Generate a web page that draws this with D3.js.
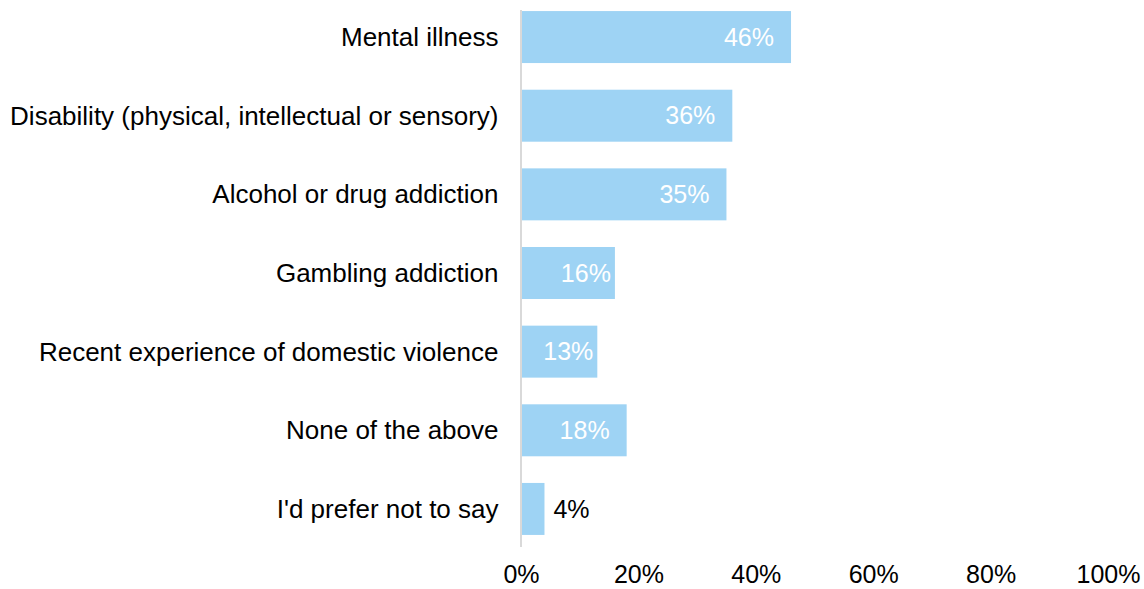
<!DOCTYPE html>
<html>
<head>
<meta charset="utf-8">
<script src="https://cdn.jsdelivr.net/npm/d3@7"></script>
<style>
  html, body { margin: 0; padding: 0; background: #ffffff; }
  svg { display: block; }
  text { font-family: "Liberation Sans", Arial, sans-serif; }
</style>
</head>
<body>
<svg id="chart" width="1144" height="589"></svg>
<script>
// Survey responses: share of respondents selecting each option
const categories = [
  "Mental illness",
  "Disability (physical, intellectual or sensory)",
  "Alcohol or drug addiction",
  "Gambling addiction",
  "Recent experience of domestic violence",
  "None of the above",
  "I'd prefer not to say"
];
const values = [46, 36, 35, 16, 13, 18, 4];
const tickValues = [0, 20, 40, 60, 80, 100];

const barColor = "#9ed3f4";
const labelSize = 26;
const valueSize = 25;

const svg = d3.select("#chart");

const x = d3.scaleLinear().domain([0, 100]).range([521, 1108]);
const y = d3.scaleBand()
  .domain(categories)
  .range([-2.3, 548.3])
  .paddingInner(0.339)
  .paddingOuter(0.17);

const rows = categories.map((c, i) => ({ cat: c, val: values[i] }));

// Bars
svg.append("g")
  .selectAll("rect")
  .data(rows)
  .join("rect")
  .attr("x", x(0) + 1)
  .attr("y", d => y(d.cat))
  .attr("width", d => x(d.val) - x(0) - 1)
  .attr("height", y.bandwidth())
  .attr("fill", barColor);

// Vertical category axis line
svg.append("line")
  .attr("x1", x(0)).attr("x2", x(0))
  .attr("y1", 10).attr("y2", 547)
  .attr("stroke", "#d9d9d9")
  .attr("stroke-width", 2);

// Category labels
svg.append("g")
  .selectAll("text")
  .data(rows)
  .join("text")
  .attr("x", 498.5)
  .attr("y", d => y(d.cat) + y.bandwidth() / 2)
  .attr("dy", "0.35em")
  .attr("text-anchor", "end")
  .attr("font-size", labelSize)
  .attr("fill", "#000000")
  .text(d => d.cat);

// Value labels: inside the bar end when it fits, otherwise just outside
svg.append("g")
  .selectAll("text")
  .data(rows)
  .join("text")
  .attr("x", d => {
    const w = x(d.val) - x(0);
    if (w < 40) return x(d.val) + 9;
    return x(d.val) - (w < 100 ? 4 : 17);
  })
  .attr("y", d => y(d.cat) + y.bandwidth() / 2)
  .attr("dy", "0.35em")
  .attr("text-anchor", d => (x(d.val) - x(0) < 40 ? "start" : "end"))
  .attr("font-size", valueSize)
  .attr("fill", d => (x(d.val) - x(0) < 40 ? "#000000" : "#ffffff"))
  .text(d => d.val + "%");

// Percentage axis (labels only)
const xAxis = d3.axisBottom(x)
  .tickValues(tickValues)
  .tickFormat(d => d + "%")
  .tickSize(0)
  .tickPadding(0);

const gx = svg.append("g")
  .attr("transform", "translate(0,565)")
  .call(xAxis);
gx.select(".domain").remove();
gx.selectAll("text")
  .attr("font-family", "'Liberation Sans', Arial, sans-serif")
  .attr("font-size", valueSize)
  .attr("fill", "#000000")
  .attr("dy", "0.71em");
</script>
</body>
</html>
